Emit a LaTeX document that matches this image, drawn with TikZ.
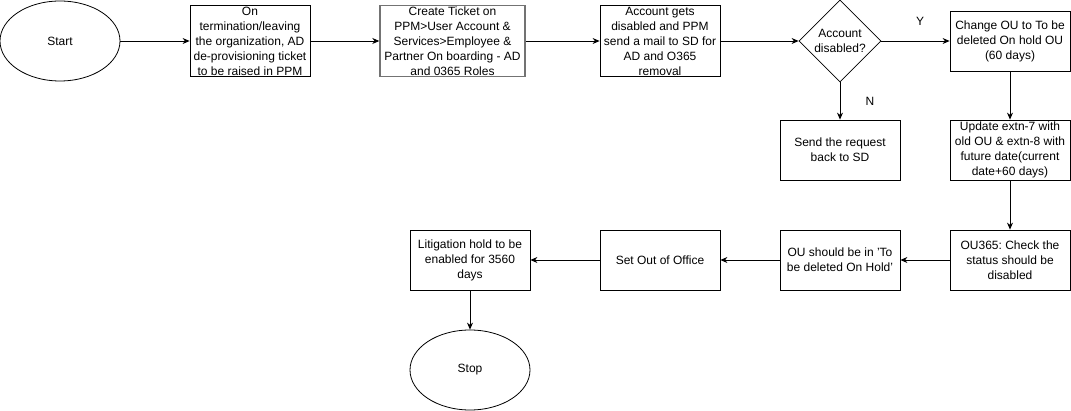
\documentclass[tikz,border=0pt]{standalone}
\usepackage{fontspec}
\setmainfont{Liberation Sans}
\frenchspacing
\usetikzlibrary{positioning,shapes.geometric,arrows.meta}
\newcommand{\boxfont}{\fontsize{12}{15}\selectfont\spaceskip=\fontdimen2\font\relax}
\newcommand{\definitions}{%
  % color of the highlighted ticket box
  \colorlet{colSel}{black!55}
  % color of plain frames
  \colorlet{colFrame}{black}

  % centre of the top row
  \coordinate (oTop) at (0,41);
  % centre of the bottom row
  \coordinate (oBot) at (0,260);
}

\begin{document}
\begin{tikzpicture}[x=1pt,y=-1pt,
    every node/.style={font=\boxfont},
    terminal/.style={draw=colFrame, ellipse, line width=0.8pt,
      minimum width=120pt, minimum height=80pt, inner sep=0pt},
    stepbox/.style={draw=colFrame, rectangle, line width=0.8pt,
      minimum width=120pt, minimum height=60pt, inner sep=0pt,
      text width=116pt, align=flush center},
    decision/.style={draw=colFrame, diamond, line width=0.8pt,
      minimum width=82pt, minimum height=82pt, inner sep=0pt, align=center},
    flow/.style={line width=0.8pt, -{Stealth[length=7pt,width=6pt]}}]

  % define colors and rows
  \definitions
  \useasboundingbox (0,0) rectangle (1071,411);

  % top row
  \node[terminal] (start) at (60,41) {Start};
  \node[stepbox, minimum height=71pt] (raise) at (250,41)
    {On\\termination/leaving the organization, AD de-provisioning ticket to be raised in PPM};
  \node[stepbox, draw=colSel, line width=1.4pt, minimum width=145pt,
    minimum height=71pt, text width=141pt] (ticket) at (452.5,41)
    {Create Ticket on PPM>User Account \& Services>Employee \& Partner On boarding - AD and 0365 Roles};
  \node[stepbox, minimum height=71pt] (mail) at (660,41)
    {Account gets disabled and PPM send a mail to SD for AD and O365 removal};
  \node[decision] (dec) at (840,41) {Account\\disabled?};
  \node[stepbox] (onhold) at (1010,41)
    {Change OU to To be deleted On hold OU (60 days)};

  % middle row
  \node[stepbox] (back) at (840,150) {Send the request back to SD};
  \node[stepbox] (extn) at (1010,150)
    {Update extn-7 with old OU \& extn-8 with future date(current date+60 days)};

  % bottom row
  \node[stepbox] (check) at (1010,260)
    {OU365: Check the status should be disabled};
  \node[stepbox] (inou) at (840,260)
    {OU should be in 'To be deleted On Hold'};
  \node[stepbox] (ooo) at (660,260) {Set Out of Office};
  \node[stepbox] (litig) at (470,260)
    {Litigation hold to be enabled for 3560 days};
  \node[terminal] (stop) at (470,370) {Stop};

  % answer labels
  \node (yes) at (920,21) {Y};
  \node (no) at (870,101) {N};

  % connectors
  \draw[flow] (start) -- (raise);
  \draw[flow] (raise) -- (ticket);
  \draw[flow] (ticket) -- (mail);
  \draw[flow] (mail) -- (dec);
  \draw[flow] (dec) -- (onhold);
  \draw[flow] (dec) -- (back);
  \draw[flow] (onhold) -- (extn);
  \draw[flow] (extn) -- (check);
  \draw[flow] (check) -- (inou);
  \draw[flow] (inou) -- (ooo);
  \draw[flow] (ooo) -- (litig);
  \draw[flow] (litig) -- (stop);

\end{tikzpicture}
\end{document}
